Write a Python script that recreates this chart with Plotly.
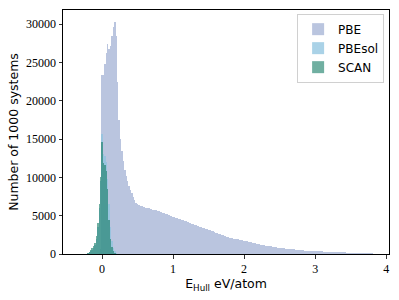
import plotly.graph_objects as go

# ---- data: histogram counts (bin width 0.02 eV/atom) ----
BIN_WIDTH = 0.02

pbe_start = -0.04
pbe_counts = [
    150, 600,
    23400, 23300, 24800, 26200, 27400, 26700, 27100, 28400, 29600, 30300,
    28500, 22500, 17500, 15000, 13400, 12100, 11000, 10200, 9500, 8900,
    8400, 7900, 7400, 7000, 6700, 6500, 6350, 6280, 6220, 6180,
    6130, 6060, 6010, 5960, 5900, 5860, 5780, 5730, 5690, 5610,
    5550, 5480, 5420, 5370, 5300, 5240, 5170, 5090, 4990, 4920,
    4850, 4790, 4720, 4660, 4580, 4510, 4450, 4380, 4320, 4250,
    4180, 4110, 4030, 3970, 3900, 3830, 3760, 3700, 3630, 3570,
    3500, 3430, 3370, 3300, 3230, 3160, 3080, 3010, 2950, 2880,
    2800, 2740, 2660, 2600, 2530, 2460, 2400, 2330, 2270, 2210,
    2150, 2110, 2060, 2020, 1980, 1940, 1900, 1860, 1820, 1780,
    1740, 1700, 1650, 1610, 1570, 1530, 1490, 1450, 1410, 1360,
    1320, 1280, 1230, 1190, 1150, 1100, 1070, 1040, 1010, 980,
    950, 920, 890, 860, 830, 800, 780, 760, 730, 710,
    690, 670, 650, 630, 620, 600, 580, 560, 540, 520,
    500, 480, 470, 450, 440, 420, 410, 400, 390, 380,
    370, 360, 350, 340, 335, 330, 320, 310, 300, 295,
    290, 280, 270, 260, 255, 250, 240, 230, 225, 215,
    210, 200, 195, 190, 185, 180, 170, 160, 150, 145,
    140, 130, 120, 110, 105, 100, 95, 90, 80, 75,
    70, 60, 55, 50, 45, 40,
]

pbesol_start = -0.22
pbesol_counts = [
    60, 100, 200, 350, 550, 800, 1200, 2000, 3500, 6000, 9500,
    15700, 13000, 12800, 12000, 9800, 6500, 3500, 1700, 800, 350, 150, 60, 20,
]

scan_start = -0.22
scan_counts = [
    60, 150, 300, 550, 800, 1100, 1500, 2300, 4000, 6500, 10000,
    14600, 11900, 11600, 10800, 8500, 4500, 2000, 900, 400, 150, 50,
]

series_names = ["PBE", "PBEsol", "SCAN"]
x_tick_values = [0, 1, 2, 3, 4]
y_tick_values = [0, 5000, 10000, 15000, 20000, 25000, 30000]


def centers(start, counts):
    return [round(start + i * BIN_WIDTH, 4) for i in range(len(counts))]


colors = ["#8da0cb", "#8ec4df", "#1a7f68"]
opacities = [0.6, 0.75, 0.62]

fig = go.Figure()
for name, start, counts, col, op in zip(
    series_names,
    [pbe_start, pbesol_start, scan_start],
    [pbe_counts, pbesol_counts, scan_counts],
    colors,
    opacities,
):
    fig.add_trace(
        go.Bar(
            x=centers(start, counts),
            y=counts,
            width=BIN_WIDTH,
            name=name,
            marker=dict(color=col, line=dict(width=0)),
            opacity=op,
            hoverinfo="skip",
        )
    )

serif = "Liberation Serif, DejaVu Serif, serif"
sans = "DejaVu Sans, sans-serif"

fig.update_layout(
    width=399,
    height=300,
    margin=dict(l=63, r=10, t=10, b=46, autoexpand=False),
    barmode="overlay",
    bargap=0,
    plot_bgcolor="white",
    paper_bgcolor="white",
    showlegend=True,
    legend=dict(
        x=0.985,
        y=0.985,
        xanchor="right",
        yanchor="top",
        bgcolor="rgba(255,255,255,0.8)",
        bordercolor="#d0d0d0",
        borderwidth=1,
        font=dict(family=sans, size=12, color="black"),
        itemwidth=30,
        tracegroupgap=2,
    ),
    xaxis=dict(
        range=[-0.55, 4.04],
        autorange=False,
        automargin=False,
        tickvals=x_tick_values,
        ticktext=[str(v) for v in x_tick_values],
        ticks="outside",
        ticklen=3.5,
        tickwidth=0.8,
        tickcolor="black",
        showline=True,
        linecolor="black",
        linewidth=1,
        mirror=True,
        showgrid=False,
        zeroline=False,
        tickfont=dict(family=serif, size=12, color="black"),
        title=dict(
            text="E<sub>Hull</sub> eV/atom",
            font=dict(family=sans, size=12.5, color="black"),
            standoff=4,
        ),
    ),
    yaxis=dict(
        range=[0, 31830],
        autorange=False,
        automargin=False,
        tickvals=y_tick_values,
        ticktext=[str(v) for v in y_tick_values],
        ticks="outside",
        ticklen=3.5,
        tickwidth=0.8,
        tickcolor="black",
        showline=True,
        linecolor="black",
        linewidth=1,
        mirror=True,
        showgrid=False,
        zeroline=False,
        tickfont=dict(family=serif, size=12, color="black"),
        title=dict(
            text="Number of 1000 systems",
            font=dict(family=sans, size=12.5, color="black"),
            standoff=4,
        ),
    ),
)

fig.write_html(
    "out.html",
    config={"displayModeBar": False, "staticPlot": True},
    post_script="document.body.style.margin='0';document.body.style.padding='0';",
)
